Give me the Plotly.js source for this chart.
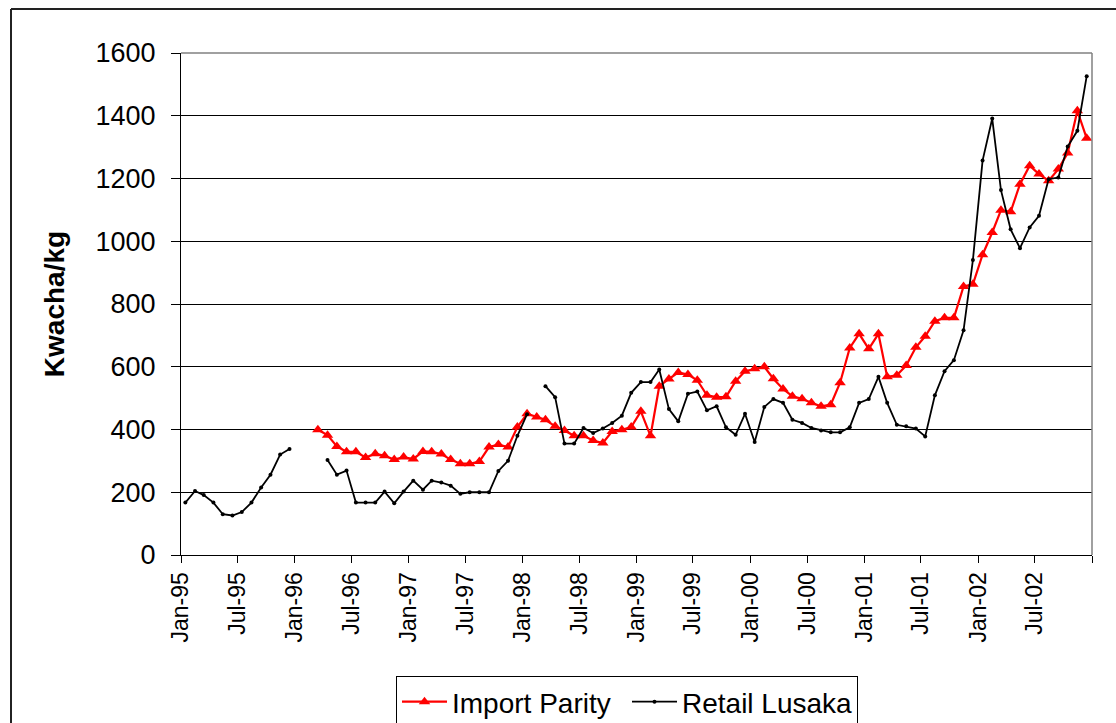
<!DOCTYPE html>
<html>
<head>
<meta charset="utf-8">
<script src="https://cdn.plot.ly/plotly-3.0.1.min.js"></script>
<style>
  html, body { margin: 0; padding: 0; background: #fff; }
  #chart { width: 1116px; height: 723px; }
</style>
</head>
<body>
<div id="chart"></div>
<script>
// Monthly observations, Jan-1995 .. Dec-2002 (null = no observation)
const startYear = 1995;
const endYear = 2002;

const importParity = [
  // 1995
  null, null, null, null, null, null, null, null, null, null, null, null,
  // 1996
  null, null, 399, 382, 346, 329, 329, 311, 323, 316, 304, 312,
  // 1997
  306, 330, 329, 322, 304, 291, 291, 298, 344, 352, 344, 408,
  // 1998
  450, 440, 431, 410, 397, 380, 380, 365, 357, 394, 399, 408,
  // 1999
  458, 380, 538, 561, 582, 575, 557, 509, 503, 504, 554, 586,
  // 2000
  594, 600, 562, 529, 506, 498, 485, 474, 479, 549, 660, 705,
  // 2001
  657, 705, 568, 573, 604, 662, 697, 745, 756, 756, 856, 863,
  // 2002
  957, 1028, 1099, 1094, 1182, 1241, 1214, 1193, 1230, 1281, 1416, 1328
];

const retailLusaka = [
  // 1995
  167, 204, 191, 167, 130, 126, 137, 167, 215, 256, 320, 338,
  // 1996
  null, null, null, 303, 256, 269, 167, 167, 167, 202, 165, 202,
  // 1997
  237, 208, 237, 231, 221, 195, 200, 200, 200, 268, 300, 380,
  // 1998
  449, null, 538, 503, 355, 355, 405, 389, 403, 421, 444, 517,
  // 1999
  551, 551, 591, 465, 426, 514, 521, 461, 474, 407, 383, 450,
  // 2000
  360, 472, 497, 485, 431, 421, 405, 397, 391, 391, 407, 485,
  // 2001
  497, 568, 485, 415, 410, 403, 378, 509, 586, 621, 716, 940,
  // 2002
  1257, 1391, 1163, 1038, 978, 1044, 1081, 1198, 1203, 1302, 1352, 1526
];

const tickDates = [
  "1995-01-01","1995-07-01","1996-01-01","1996-07-01","1997-01-01","1997-07-01",
  "1998-01-01","1998-07-01","1999-01-01","1999-07-01","2000-01-01","2000-07-01",
  "2001-01-01","2001-07-01","2002-01-01","2002-07-01","2003-01-01"
];
const tickLabels = [
  "Jan-95","Jul-95","Jan-96","Jul-96","Jan-97","Jul-97",
  "Jan-98","Jul-98","Jan-99","Jul-99","Jan-00","Jul-00",
  "Jan-01","Jul-01","Jan-02","Jul-02",""
];

const seriesNames = ["Import Parity", "Retail Lusaka"];
const yTitle = "Kwacha/kg";

// month categories (mid-month positions on the date axis)
const months = [];
for (let y = startYear; y <= endYear; y++) {
  for (let m = 1; m <= 12; m++) {
    months.push(y + "-" + String(m).padStart(2, "0") + "-15");
  }
}

const FONT = "Liberation Sans, Arial, sans-serif";

const traces = [
  {
    x: months, y: importParity, name: seriesNames[0],
    type: "scatter", mode: "lines+markers", connectgaps: false,
    line: { color: "#FF0000", width: 2.2 },
    marker: { symbol: "triangle-up", size: 10, color: "#FF0000" }
  },
  {
    x: months, y: retailLusaka, name: seriesNames[1],
    type: "scatter", mode: "lines+markers", connectgaps: false,
    line: { color: "#000000", width: 1.8 },
    marker: { symbol: "circle", size: 4, color: "#000000" }
  }
];

const layout = {
  width: 1116, height: 723,
  margin: { l: 181, r: 24, t: 53, b: 168, pad: 0 },
  paper_bgcolor: "#ffffff",
  plot_bgcolor: "#ffffff",
  font: { family: FONT, color: "#000" },
  showlegend: true,
  xaxis: {
    type: "date",
    range: ["1995-01-01", "2003-01-01"],
    tickmode: "array",
    tickvals: tickDates,
    ticktext: tickLabels,
    tickangle: -90,
    ticks: "outside", ticklen: 7, tickcolor: "#000", tickwidth: 1,
    tickfont: { size: 23, family: FONT, color: "#000" },
    showline: true, linecolor: "#000", linewidth: 1,
    showgrid: false, zeroline: false,
    automargin: false
  },
  yaxis: {
    range: [0, 1600],
    tick0: 0, dtick: 200,
    ticks: "outside", ticklen: 9, tickcolor: "#000", tickwidth: 1,
    ticklabelstandoff: 10,
    tickfont: { size: 27, family: FONT, color: "#000" },
    showline: true, linecolor: "#000", linewidth: 1,
    showgrid: true, gridcolor: "#000", gridwidth: 1,
    zeroline: false,
    automargin: false,
    title: { text: yTitle, font: { size: 28, family: FONT, weight: "bold", color: "#000" }, standoff: 22 }
  },
  legend: {
    orientation: "h",
    xref: "container", yref: "container",
    x: 396 / 1116, xanchor: "left",
    y: 1 - 676 / 723, yanchor: "top",
    bordercolor: "#000", borderwidth: 1,
    bgcolor: "#fff",
    font: { size: 28, family: FONT, color: "#000" },
    itemwidth: 45,
    entrywidth: 170
  },
  shapes: [
    // plot-area border (top and right), grey
    { type: "line", xref: "paper", yref: "paper", x0: 0, x1: 1, y0: 1, y1: 1,
      line: { color: "#808080", width: 1.5 }, layer: "above" },
    { type: "line", xref: "paper", yref: "paper", x0: 1, x1: 1, y0: 0, y1: 1,
      line: { color: "#808080", width: 1.5 }, layer: "above" },
    // outer chart frame (top and left)
    { type: "line", xref: "paper", yref: "paper", x0: -0.1866, x1: 1.2, y0: 1.0878, y1: 1.0878,
      line: { color: "#222", width: 2 }, layer: "above" },
    { type: "line", xref: "paper", yref: "paper", x0: -0.1866, x1: -0.1866, y0: 1.0878, y1: -0.6,
      line: { color: "#222", width: 2 }, layer: "above" }
  ]
};

Plotly.newPlot("chart", traces, layout, { displayModeBar: false, staticPlot: true });
</script>
</body>
</html>
